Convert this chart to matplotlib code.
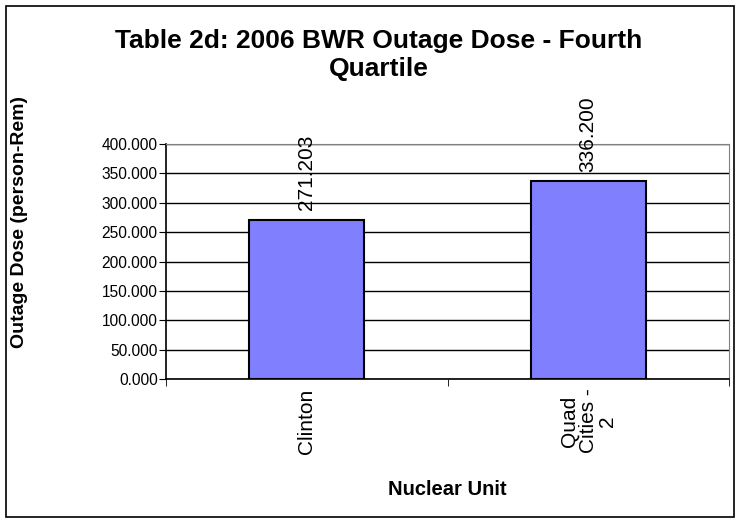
import matplotlib.pyplot as plt
from matplotlib.patches import Rectangle

# Data
units = ['Clinton', 'Quad\nCities -\n2']
dose = [271.203, 336.200]
value_labels = ['271.203', '336.200']
yticks = [0, 50, 100, 150, 200, 250, 300, 350, 400]

plt.rcParams['font.family'] = ['Liberation Sans', 'DejaVu Sans']

fig = plt.figure(figsize=(7.4, 5.23), dpi=100)
ax = fig.add_axes([166/740, 1 - 379/523, (729-166)/740, (379-144)/523])

x = list(range(len(units)))
ax.bar(x, dose, width=0.41, color='#8080FF', edgecolor='black', linewidth=1.5, zorder=3)

# value labels above the bars
for xi, v, lab in zip(x, dose, value_labels):
    ax.annotate(lab, (xi, v), xytext=(0, 7), textcoords='offset points',
                rotation=90, ha='center', va='bottom', fontsize=15, zorder=4)

ax.set_xlim(-0.5, len(units) - 0.5)
ax.set_ylim(0, 400)
ax.set_yticks(yticks)
ax.set_yticklabels(['%.3f' % t for t in yticks], fontsize=11.2)
ax.yaxis.grid(True, color='black', linewidth=1)
ax.set_axisbelow(True)

ax.set_xticks(x)
ax.set_xticklabels(units, rotation=90, fontsize=15, multialignment='center', linespacing=1.0)
ax.set_xticks([-0.5, 0.5, 1.5], minor=True)
ax.tick_params(axis='x', which='major', length=0, pad=7)
ax.tick_params(axis='x', which='minor', length=5, direction='out', color='black')
ax.tick_params(axis='y', length=5, direction='out', color='black', pad=1)

for side in ['top', 'right']:
    ax.spines[side].set_color('#808080')
for side in ['left', 'bottom']:
    ax.spines[side].set_color('black')
    ax.spines[side].set_linewidth(1.2)

ax.set_xlabel('Nuclear Unit', fontsize=14.5, fontweight='bold')
ax.xaxis.set_label_coords(0.5, -0.43)
ax.set_ylabel('Outage Dose (person-Rem)', fontsize=14, fontweight='bold')
ax.yaxis.set_label_coords(-0.245, 0.67)

fig.text(379/740, 1 - 55/523, 'Table 2d: 2006 BWR Outage Dose - Fourth\nQuartile',
         ha='center', va='center', fontsize=19, fontweight='bold', linespacing=1.2)

# outer chart border
fig.patches.append(Rectangle((6/740, 6/523), 728/740, 511/523, transform=fig.transFigure,
                             fill=False, edgecolor='black', linewidth=1.2))

fig.savefig('out.png', dpi=100)
